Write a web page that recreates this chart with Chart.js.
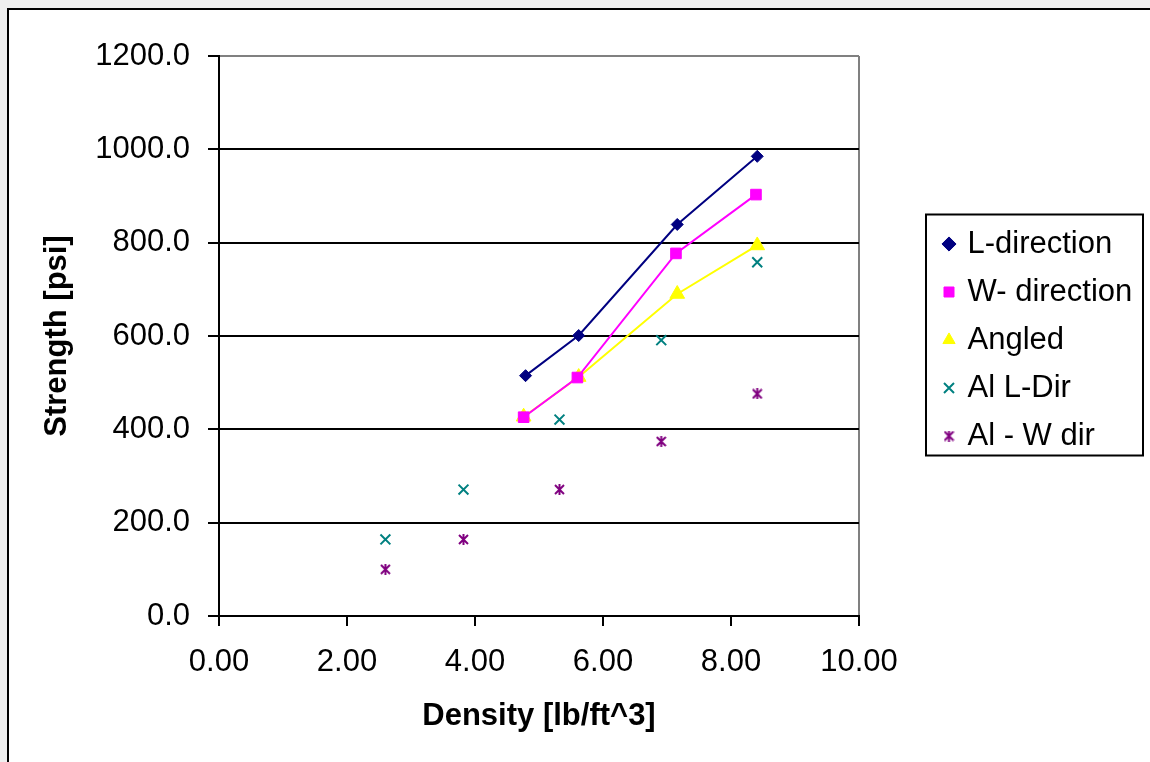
<!DOCTYPE html>
<html>
<head>
<meta charset="utf-8">
<script src="https://cdn.jsdelivr.net/npm/chart.js@4.4.1/dist/chart.umd.min.js"></script>
<style>
  html, body { margin: 0; padding: 0; background: #efefef; overflow: hidden; }
  #marco { position: absolute; left: 7px; top: 8px; width: 1300px; height: 900px; background: #fff; border: 2px solid #000; }
  #caja { position: absolute; left: 0; top: 0; width: 1150px; height: 762px; }
</style>
</head>
<body>
<div id="marco"></div>
<div id="caja"><canvas id="grafico"></canvas></div>
<script>
const seriesNames = ["L-direction", "W- direction", "Angled", "Al L-Dir", "Al - W dir"];

const lDirX = [4.79, 5.62, 7.16, 8.41];
const lDirY = [515, 601, 839, 985];

const wDirX = [4.76, 5.60, 7.14, 8.39];
const wDirY = [426, 511, 777, 903];

const angledX = [4.76, 5.62, 7.16, 8.41];
const angledY = [427, 512, 690, 794];

const alLX = [2.60, 3.82, 5.32, 6.91, 8.41];
const alLY = [164, 271, 421, 591, 758];

const alWX = [2.60, 3.82, 5.32, 6.91, 8.41];
const alWY = [100, 164, 271, 374, 476];

const yTicks = [0, 200, 400, 600, 800, 1000, 1200];
const xTicks = [0, 2, 4, 6, 8, 10];

const fuente = "'Liberation Sans', Arial, sans-serif";

function puntos(xs, ys) {
  return xs.map((x, i) => ({ x: x, y: ys[i] }));
}

// marcador tipo asterisco (X con barra vertical)
function asterisco(color, size) {
  const c = document.createElement("canvas");
  c.width = size;
  c.height = size;
  const g = c.getContext("2d");
  g.strokeStyle = color;
  g.lineWidth = 2;
  g.beginPath();
  g.moveTo(1, 1); g.lineTo(size - 1, size - 1);
  g.moveTo(size - 1, 1); g.lineTo(1, size - 1);
  g.moveTo(size / 2, 0); g.lineTo(size / 2, size);
  g.stroke();
  return c;
}

const legendBox = {
  id: "legendBox",
  beforeInit(chart) {
    const fit = chart.legend.fit;
    chart.legend.fit = function () {
      fit.call(this);
      this.width = 291;
    };
  },
  afterLayout(chart) {
    const lg = chart.legend;
    lg.left += 70;
    lg.width -= 70;
    lg.top = chart.chartArea.top + 4;
    lg.bottom = chart.chartArea.bottom + 4;
    lg.height = lg.bottom - lg.top;
  },
  afterDraw(chart) {
    const hb = chart.legend.legendHitBoxes;
    if (!hb || !hb.length) return;
    const ctx = chart.ctx;
    ctx.save();
    ctx.strokeStyle = "#000";
    ctx.lineWidth = 2;
    ctx.strokeRect(hb[0].left - 20, hb[0].top - 14, 217, 241);
    ctx.restore();
  }
};

const ctx = document.getElementById("grafico").getContext("2d");
const grafico = new Chart(ctx, {
  type: "scatter",
  data: {
    datasets: [
      {
        label: seriesNames[0],
        data: puntos(lDirX, lDirY),
        showLine: true,
        borderColor: "#000080",
        backgroundColor: "#000080",
        borderWidth: 2,
        pointStyle: "rectRot",
        pointRadius: 6,
        pointBorderWidth: 1,
        tension: 0
      },
      {
        label: seriesNames[1],
        data: puntos(wDirX, wDirY),
        showLine: true,
        borderColor: "#FF00FF",
        backgroundColor: "#FF00FF",
        borderWidth: 2,
        pointStyle: "rect",
        pointRadius: 7.5,
        pointBorderWidth: 1,
        tension: 0
      },
      {
        label: seriesNames[2],
        data: puntos(angledX, angledY),
        showLine: true,
        borderColor: "#FFFF00",
        backgroundColor: "#FFFF00",
        borderWidth: 2,
        pointStyle: "triangle",
        pointRadius: 8.5,
        pointBorderWidth: 1,
        tension: 0
      },
      {
        label: seriesNames[3],
        data: puntos(alLX, alLY),
        borderColor: "#008080",
        backgroundColor: "#008080",
        pointStyle: "crossRot",
        pointRadius: 7,
        pointBorderWidth: 2
      },
      {
        label: seriesNames[4],
        data: puntos(alWX, alWY),
        borderColor: "#800080",
        backgroundColor: "#800080",
        pointStyle: asterisco("#800080", 11),
        pointRadius: 6,
        pointBorderWidth: 2
      }
    ]
  },
  options: {
    responsive: true,
    maintainAspectRatio: false,
    animation: false,
    layout: { padding: { left: 20, right: 0, top: 56, bottom: 0 } },
    plugins: {
      tooltip: { enabled: false },
      legend: {
        position: "right",
        align: "center",
        labels: {
          usePointStyle: true,
          boxWidth: 6,
          boxHeight: 10,
          padding: 17,
          color: "#000",
          font: { family: fuente, size: 31 }
        }
      }
    },
    scales: {
      x: {
        type: "linear",
        min: 0,
        max: 10,
        afterBuildTicks: (scale) => { scale.ticks = xTicks.map((v) => ({ value: v })); },
        afterFit: (scale) => { scale.height = 146; },
        ticks: {
          color: "#000",
          padding: 18,
          maxRotation: 0,
          font: { family: fuente, size: 31 },
          callback: (v) => Number(v).toFixed(2)
        },
        grid: {
          color: (c) => (c.tick && c.tick.value === 10 ? "#808080" : "rgba(0,0,0,0)"),
          tickColor: "#000",
          lineWidth: 2,
          tickLength: 10
        },
        border: { color: "#000", width: 2 },
        title: {
          display: true,
          text: "Density [lb/ft^3]",
          color: "#000",
          padding: { top: 0, bottom: 27 },
          font: { family: fuente, size: 31, weight: "bold" }
        }
      },
      y: {
        type: "linear",
        min: 0,
        max: 1200,
        afterBuildTicks: (scale) => { scale.ticks = yTicks.map((v) => ({ value: v })); },
        afterFit: (scale) => { scale.width = 199; },
        ticks: {
          color: "#000",
          padding: 18,
          font: { family: fuente, size: 31 },
          callback: (v) => Number(v).toFixed(1)
        },
        grid: {
          color: (c) => (c.tick && c.tick.value === 1200 ? "#808080" : "#000"),
          tickColor: "#000",
          lineWidth: 2,
          tickLength: 11
        },
        border: { color: "#000", width: 2 },
        title: {
          display: true,
          text: "Strength [psi]",
          color: "#000",
          padding: { top: 19, bottom: 0 },
          font: { family: fuente, size: 31, weight: "bold" }
        }
      }
    }
  },
  plugins: [legendBox]
});
</script>
</body>
</html>
